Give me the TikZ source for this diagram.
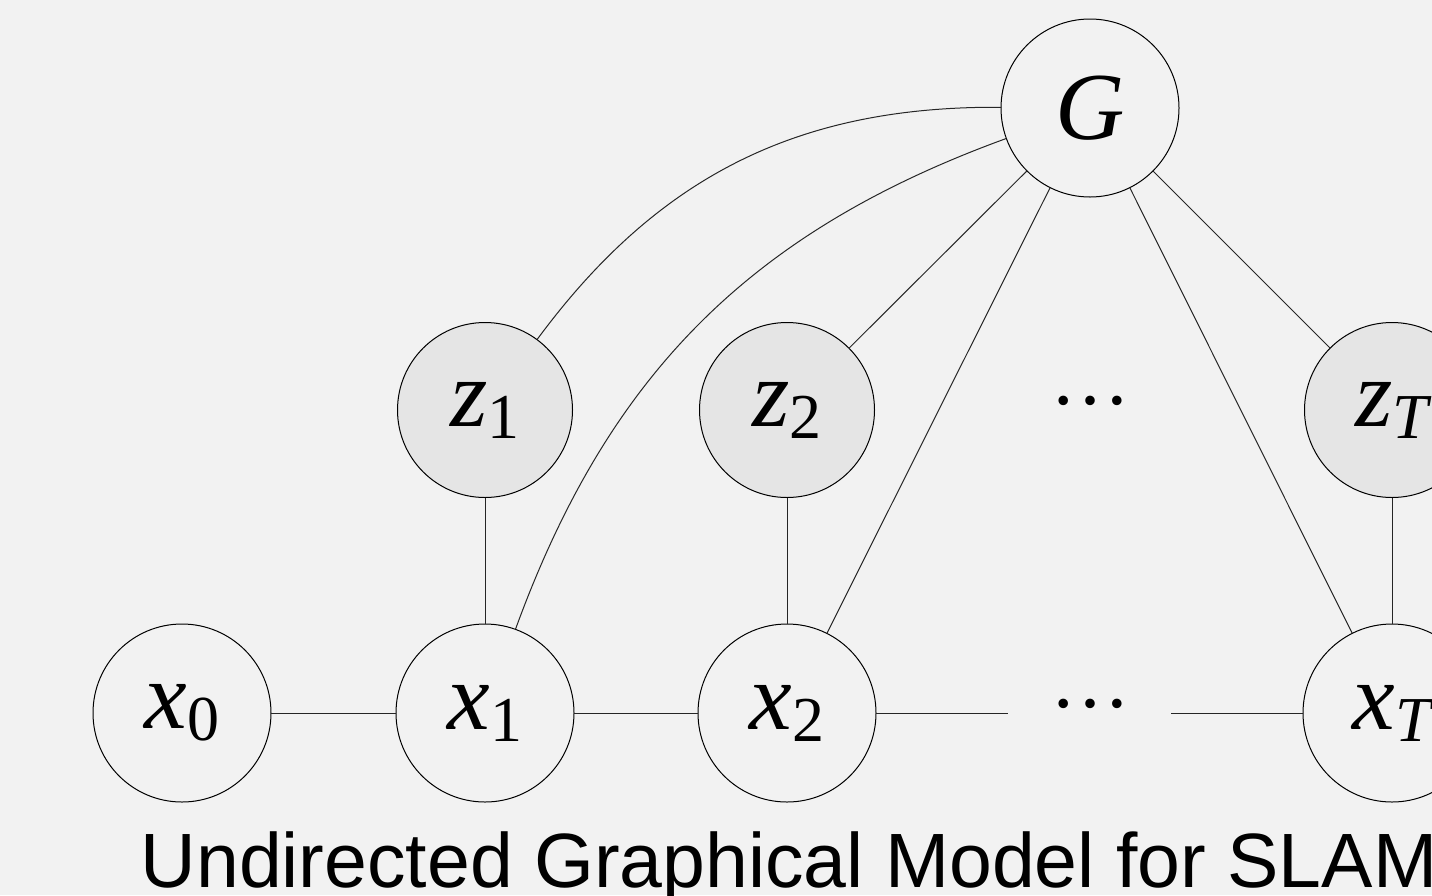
\documentclass[tikz,border=0pt]{standalone}
\usepackage{fontspec}
\setmainfont{Liberation Serif}
\newfontfamily\titlefont{Liberation Sans}
\definecolor{bgc}{HTML}{F2F2F2}
\definecolor{obsc}{HTML}{E5E5E5}
% random variable label: italic letter with a subscript
\newcommand\rv[2]{\fontsize{96}{96}\selectfont\itshape #1\raisebox{-12pt}{\fontsize{64}{64}\selectfont #2}}
\tikzset{
  every node/.style={inner sep=0pt, outer sep=0pt},
  var/.style={circle, draw=black, line width=1pt, fill=bgc, minimum size=178pt},
  obs/.style={var, fill=obsc, minimum size=175pt},
  link/.style={draw=black!85, line width=1pt},
  ellip/.style={font=\fontsize{80}{80}\selectfont},
}
\begin{document}
\begin{tikzpicture}[x=1pt, y=-1pt]
  \fill[bgc] (0,0) rectangle (1432,895);
  \clip (0,0) rectangle (1432,895);

  % global map variable
  \node[var] (G) at (1090,108) {\fontsize{96}{96}\selectfont\itshape G};

  % observations
  \node[obs] (z1) at (485,410) {\rv{z}{\upshape 1}};
  \node[obs] (z2) at (787,410) {\rv{z}{\upshape 2}};
  \node[obs] (zT) at (1392,410) {\rv{z}{T}};
  \node[ellip] (zdots) at (1090,401) {…};

  % poses
  \node[var] (x0) at (182,713) {\rv{x}{\upshape 0}};
  \node[var] (x1) at (485,713) {\rv{x}{\upshape 1}};
  \node[var] (x2) at (787,713) {\rv{x}{\upshape 2}};
  \node[var] (xT) at (1392,713) {\rv{x}{T}};
  \node[ellip] (xdots) at (1090,704) {…};
  \coordinate (gapL) at (1008,713);
  \coordinate (gapR) at (1171,713);

  % pose chain
  \draw[link] (x0) -- (x1);
  \draw[link] (x1) -- (x2);
  \draw[link] (x2) -- (gapL);
  \draw[link] (gapR) -- (xT);

  % measurement links
  \draw[link] (z1) -- (x1);
  \draw[link] (z2) -- (x2);
  \draw[link] (zT) -- (xT);

  % links to the map
  \draw[link] (G) to[bend right=27] (z1);
  \draw[link] (G) to[bend right=25] (x1);
  \draw[link] (G) -- (z2);
  \draw[link] (G) -- (x2);
  \draw[link] (G) -- (xT);
  \draw[link] (G) -- (zT);

  % caption
  \node[anchor=base, font=\titlefont\fontsize{77}{77}\selectfont] (title) at (789,887) {Undirected Graphical Model for SLAM};
\end{tikzpicture}
\end{document}
